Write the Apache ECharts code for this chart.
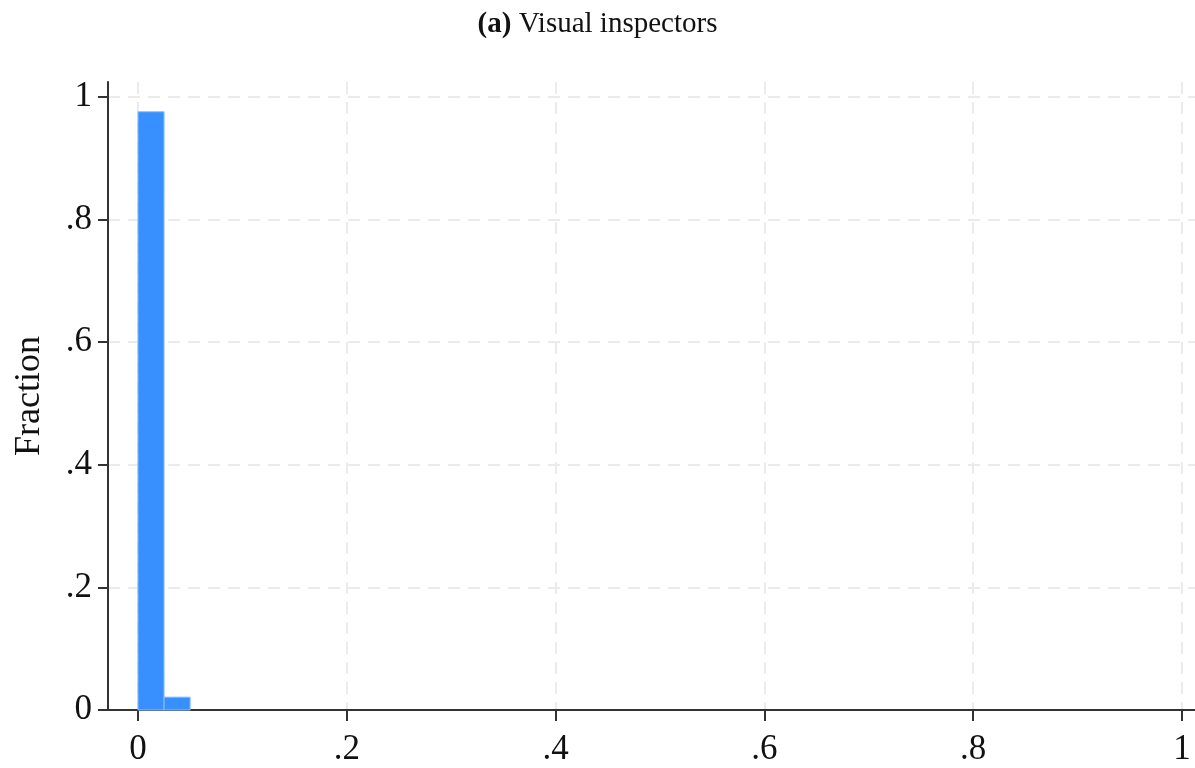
<!DOCTYPE html>
<html>
<head>
<meta charset="utf-8">
<script src="https://cdn.jsdelivr.net/npm/echarts@6/dist/echarts.min.js"></script>
<style>
  html, body { margin: 0; padding: 0; background: #ffffff; }
  #chart { width: 1195px; height: 768px; }
</style>
</head>
<body>
<div id="chart"></div>
<script>
// Histogram bins: [left edge, right edge] and the fraction of cases in each
const binEdges = [[0, 0.025], [0.025, 0.05]];
const fractions = [0.976, 0.021];
const xTicks = [0, 0.2, 0.4, 0.6, 0.8, 1];
const yTicks = [0, 0.2, 0.4, 0.6, 0.8, 1];

function fmt(v) {
  if (v === 0) return '0';
  if (v === 1) return '1';
  return String(v).replace(/^0/, '');
}

const serif = '"Liberation Serif", "DejaVu Serif", serif';
const chart = echarts.init(document.getElementById('chart'));

const barData = binEdges.map((e, i) => [e[0], e[1], fractions[i]]);

chart.setOption({
  animation: false,
  backgroundColor: '#ffffff',
  title: {
    text: '{b|(a)} Visual inspectors',
    left: 'center',
    top: 5,
    textStyle: {
      fontFamily: serif,
      fontSize: 29,
      fontWeight: 'normal',
      color: '#111111',
      rich: { b: { fontFamily: serif, fontSize: 29, fontWeight: 'bold', color: '#111111' } }
    }
  },
  grid: { left: 108, right: 0, top: 82, bottom: 58, containLabel: false, outerBoundsMode: 'none' },
  xAxis: {
    type: 'value',
    min: -0.0287,
    max: 1.0125,
    axisLine: { show: true, onZero: false, lineStyle: { color: '#333333', width: 2 } },
    axisTick: { show: true, length: 11, customValues: xTicks, lineStyle: { color: '#333333', width: 2 } },
    axisLabel: {
      customValues: xTicks,
      formatter: fmt,
      margin: 22,
      fontFamily: serif, fontSize: 35, color: '#111111'
    },
    splitLine: { show: true, lineStyle: { color: '#ebebeb', width: 2, type: [12, 8] } }
  },
  yAxis: {
    type: 'value',
    min: 0,
    max: 1.0245,
    name: 'Fraction',
    nameLocation: 'middle',
    nameRotate: 90,
    nameGap: 60,
    nameTextStyle: { fontFamily: serif, fontSize: 36, color: '#111111' },
    axisLine: { show: true, onZero: false, lineStyle: { color: '#333333', width: 2 } },
    axisTick: { show: true, length: 10, customValues: yTicks, lineStyle: { color: '#333333', width: 2 } },
    axisLabel: {
      customValues: yTicks,
      formatter: fmt,
      margin: 16,
      fontFamily: serif, fontSize: 35, color: '#111111'
    },
    splitLine: { show: true, lineStyle: { color: '#ebebeb', width: 2, type: [12, 8] } }
  },
  series: [{
    type: 'custom',
    data: barData,
    renderItem: function (params, api) {
      const p0 = api.coord([api.value(0), api.value(2)]);
      const p1 = api.coord([api.value(1), 0]);
      return {
        type: 'rect',
        shape: { x: p0[0], y: p0[1], width: p1[0] - p0[0], height: p1[1] - p0[1] },
        style: { fill: '#3790fd', stroke: '#8cbfff', lineWidth: 1 }
      };
    },
    encode: { x: [0, 1], y: 2 },
    z: 3
  }]
});
</script>
</body>
</html>
